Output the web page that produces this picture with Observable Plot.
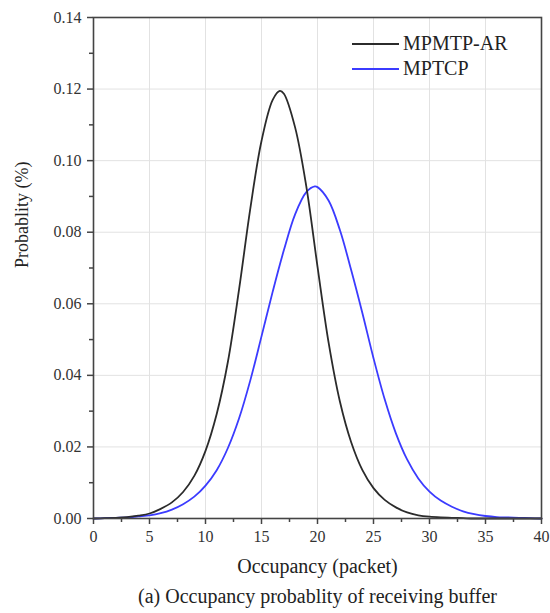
<!DOCTYPE html>
<html>
<head>
<meta charset="utf-8">
<script src="https://cdn.jsdelivr.net/npm/d3@7"></script>
<script src="https://cdn.jsdelivr.net/npm/@observablehq/plot@0.6"></script>
<style>
  body { margin: 0; background: white; }
  #wrap { position: relative; width: 550px; height: 613px; font-family: "Liberation Serif", "DejaVu Serif", serif; }
  #wrap svg, #wrap svg text { font-family: "Liberation Serif", "DejaVu Serif", serif !important; }
  #legend { position: absolute; left: 352px; top: 31px; font-size: 20px; color: #222; line-height: 25px; }
  #legend .row { display: flex; align-items: center; }
  #legend .sw { width: 47px; height: 0; border-top: 2px solid; margin-right: 4px; }
</style>
</head>
<body>
<div id="wrap"></div>
<script>
// Series names and colours
const seriesNames = ["MPMTP-AR", "MPTCP"];
const seriesColors = ["#2b2b2b", "#3b3bff"];

// Occupancy (packet) sample positions and probabilities
const xMPMTP = [0,1,2,3,4,5,6,7,8,9,10,11,12,13,14,15,16,16.64,17,18,19,20,21,22,23,24,25,26,27,28,29,30,31,32,33,34,35,36,37,38,39,40];
const yMPMTP = [0,0.0001,0.0002,0.0004,0.0008,0.0014,0.0027,0.0045,0.0074,0.0119,0.0189,0.0292,0.0438,0.0641,0.0866,0.1055,0.1170,0.1195,0.1187,0.1093,0.0928,0.0704,0.0490,0.0327,0.0214,0.0136,0.0085,0.0052,0.0031,0.0017,0.0009,0.0005,0.0003,0.0002,0.0001,0,0,0,0,0,0,0];

const xMPTCP = [0,1,2,3,4,5,6,7,8,9,10,11,12,13,14,15,16,17,18,19,19.76,20,21,22,23,24,25,26,27,28,29,30,31,32,33,34,35,36,37,38,39,40];
const yMPTCP = [0,0.0001,0.0002,0.0003,0.0006,0.0009,0.0015,0.0025,0.0040,0.0061,0.0092,0.0135,0.0197,0.0280,0.0386,0.0509,0.0634,0.0750,0.0850,0.0912,0.0928,0.0926,0.0888,0.0806,0.0695,0.0575,0.0448,0.0333,0.0238,0.0165,0.0112,0.0075,0.0050,0.0033,0.0020,0.0012,0.0007,0.0004,0.0003,0.0002,0.0001,0];

// Axis ticks
const xTicks = [0,5,10,15,20,25,30,35,40];
const xMinor = [2.5,7.5,12.5,17.5,22.5,27.5,32.5,37.5];
const yTicks = [0,0.02,0.04,0.06,0.08,0.10,0.12,0.14];
const yMinor = [0.01,0.03,0.05,0.07,0.09,0.11,0.13];

const xLabel = "Occupancy (packet)";
const yLabel = "Probablity (%)";
const caption = "(a) Occupancy probablity of receiving buffer";

const dataA = xMPMTP.map((x, i) => ({x, y: yMPMTP[i]}));
const dataB = xMPTCP.map((x, i) => ({x, y: yMPTCP[i]}));

const chart = Plot.plot({
  width: 550,
  height: 613,
  marginLeft: 93,
  marginRight: 9,
  marginTop: 17,
  marginBottom: 95,
  x: {domain: [0, 40]},
  y: {domain: [0, 0.14]},
  style: {fontFamily: "'Liberation Serif', 'DejaVu Serif', serif", fontSize: "16px", color: "#333", background: "white"},
  marks: [
    Plot.gridX(xTicks, {stroke: "#e2e2e2", strokeOpacity: 1, strokeWidth: 1}),
    Plot.gridY(yTicks, {stroke: "#e2e2e2", strokeOpacity: 1, strokeWidth: 1}),
    Plot.line(dataB, {x: "x", y: "y", stroke: seriesColors[1], strokeWidth: 1.8, curve: "catmull-rom"}),
    Plot.line(dataA, {x: "x", y: "y", stroke: seriesColors[0], strokeWidth: 1.8, curve: "catmull-rom"}),
    Plot.axisX(xTicks, {tickSize: 6, tickPadding: 6, label: null, tickFormat: d => String(d), stroke: "#444", strokeWidth: 1.5, fontSize: 16}),
    Plot.axisX(xMinor, {tickSize: 4, text: null, label: null, stroke: "#444", strokeWidth: 1.5}),
    Plot.axisY(yTicks, {tickSize: 6, tickPadding: 6, label: null, tickFormat: d3.format(".2f"), stroke: "#444", strokeWidth: 1.5, fontSize: 16}),
    Plot.axisY(yMinor, {tickSize: 4, text: null, label: null, stroke: "#444", strokeWidth: 1.5}),
    Plot.frame({stroke: "#444", strokeWidth: 1.6}),
    Plot.text([xLabel], {frameAnchor: "bottom", dy: 54, fontSize: 20, fill: "#222"}),
    Plot.text([caption], {frameAnchor: "bottom", dy: 84, fontSize: 20, fill: "#222"}),
    Plot.text([yLabel], {frameAnchor: "left", dx: -71, rotate: -90, fontSize: 18, fill: "#222"})
  ]
});

const wrap = document.getElementById("wrap");
wrap.appendChild(chart);
const legend = document.createElement("div");
legend.id = "legend";
seriesNames.forEach((name, i) => {
  const row = document.createElement("div");
  row.className = "row";
  const sw = document.createElement("span");
  sw.className = "sw";
  sw.style.borderColor = seriesColors[i];
  const t = document.createElement("span");
  t.textContent = name;
  row.appendChild(sw);
  row.appendChild(t);
  legend.appendChild(row);
});
wrap.appendChild(legend);
</script>
</body>
</html>
